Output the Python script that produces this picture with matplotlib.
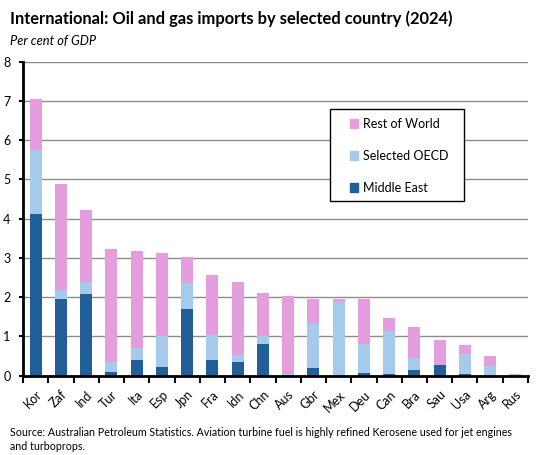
import numpy as np
import matplotlib.pyplot as plt
from matplotlib.patches import Patch, Rectangle

plt.rcParams['font.family'] = ['Lato', 'DejaVu Sans']

# 데이터 (그림에서 읽은 값, GDP 대비 %)
countries = ['Kor', 'Zaf', 'Ind', 'Tur', 'Ita', 'Esp', 'Jpn', 'Fra', 'Idn', 'Chn',
             'Aus', 'Gbr', 'Mex', 'Deu', 'Can', 'Bra', 'Sau', 'Usa', 'Arg', 'Rus']
middle_east = [4.12, 1.95, 2.08, 0.09, 0.40, 0.22, 1.70, 0.40, 0.35, 0.81,
               0.00, 0.20, 0.00, 0.07, 0.04, 0.14, 0.27, 0.04, 0.00, 0.00]
selected_oecd = [1.63, 0.23, 0.31, 0.26, 0.31, 0.80, 0.66, 0.64, 0.18, 0.21,
                 0.05, 1.14, 1.89, 0.74, 1.10, 0.31, 0.00, 0.51, 0.25, 0.00]
rest_of_world = [1.30, 2.70, 1.83, 2.88, 2.47, 2.11, 0.66, 1.52, 1.86, 1.09,
                 1.98, 0.61, 0.06, 1.14, 0.33, 0.79, 0.64, 0.23, 0.25, 0.04]

c_me = '#215F9A'
c_oecd = '#A6CAEC'
c_row = '#E59EDD'

W, H = 548, 455
fig = plt.figure(figsize=(W / 100, H / 100), dpi=100)
ax = fig.add_axes([0.042, 0.1743, 0.9215, 0.69])

x = np.arange(len(countries))
me = np.array(middle_east)
oe = np.array(selected_oecd)
rw = np.array(rest_of_world)
w = 0.48
ax.bar(x, me, w, color=c_me, zorder=2)
ax.bar(x, oe, w, bottom=me, color=c_oecd, zorder=2)
ax.bar(x, rw, w, bottom=me + oe, color=c_row, zorder=2)

ax.set_xlim(-0.5, len(countries) - 0.5)
ax.set_ylim(0, 8)
ax.set_yticks(range(0, 9))
ax.grid(axis='y', color='#8c8c8c', linewidth=1, zorder=0)
ax.set_axisbelow(True)

for s in ['top', 'right']:
    ax.spines[s].set_visible(False)
for s in ['left', 'bottom']:
    ax.spines[s].set_linewidth(2)
    ax.spines[s].set_color('black')

# x축 눈금은 카테고리 경계에
ax.set_xticks(np.arange(-0.5, len(countries)), minor=False)
ax.set_xticklabels([])
ax.set_xticks(x, minor=True)
ax.set_xticklabels(countries, minor=True, rotation=45, ha='right',
                   rotation_mode='anchor', fontsize=9)
ax.tick_params(axis='x', which='major', length=5, width=1.5, direction='out')
ax.tick_params(axis='x', which='minor', length=0, pad=9)
ax.tick_params(axis='y', length=3, width=1.5, labelsize=9, pad=6)

# 범례 박스 (흰 배경 + 검은 테두리)
box = Rectangle((330 / W, 1 - 201 / H), 134 / W, 92 / H, transform=fig.transFigure,
                facecolor='white', edgecolor='black', linewidth=1, zorder=3)
fig.patches.append(box)

handles = [Patch(color=c_row, label='Rest of World'),
           Patch(color=c_oecd, label='Selected OECD'),
           Patch(color=c_me, label='Middle East')]
leg = fig.legend(handles=handles, loc='upper left', bbox_to_anchor=(350 / W, 1 - 118 / H),
                 frameon=False, fontsize=9,
                 handlelength=0.6, handleheight=0.7, handletextpad=0.4,
                 labelspacing=1.6, borderpad=0, borderaxespad=0)
leg.set_zorder(4)

fig.text(10 / W, 1 - 19 / H, 'International: Oil and gas imports by selected country (2024)',
         fontsize=11.9, fontweight='bold', va='center', ha='left')
fig.text(10 / W, 1 - 41 / H, 'Per cent of GDP', fontsize=9.3, style='italic',
         va='center', ha='left')
fig.text(10 / W, 1 - 432 / H, 'Source: Australian Petroleum Statistics. Aviation turbine fuel is highly refined Kerosene used for jet engines',
         fontsize=7.7, va='center', ha='left')
fig.text(10 / W, 1 - 446 / H, 'and turboprops.', fontsize=7.7, va='center', ha='left')

fig.savefig('out.png', dpi=100)
